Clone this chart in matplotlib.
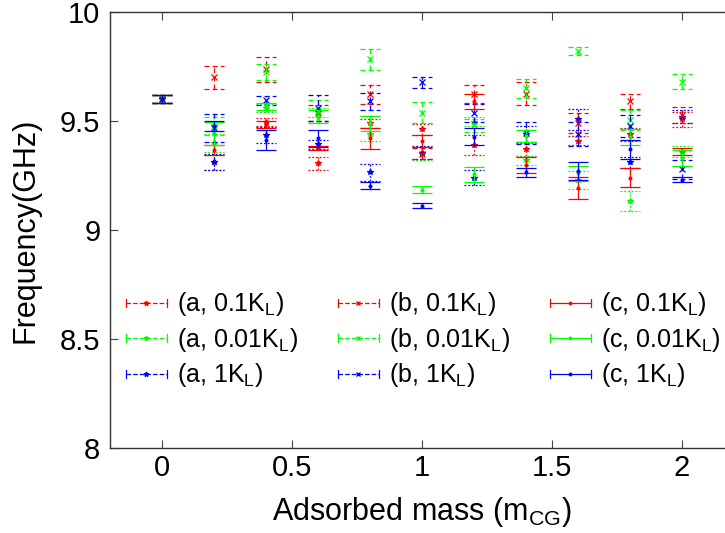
import numpy as np
import matplotlib
matplotlib.use("Agg")
import matplotlib.pyplot as plt
from matplotlib.lines import Line2D
from matplotlib.legend_handler import HandlerBase

plt.rcParams['font.family'] = ['Liberation Sans', 'DejaVu Sans']
plt.rcParams['mathtext.default'] = 'regular'

# adsorbed mass (m_CG)
mass = [0.0, 0.2, 0.4, 0.6, 0.8, 1.0, 1.2, 1.4, 1.6, 1.8, 2.0]

# case a (dotted)
a_01 = [9.60, 9.31, 9.496, 9.306, 9.489, 9.462, 9.39, 9.37, 9.41, 9.439, 9.507]
a_01_err = [0.017, 0.035, 0.02, 0.03, 0.02, 0.024, 0.045, 0.03, 0.02, 0.03, 0.036]
a_001 = [9.60, 9.40, 9.56, 9.54, 9.44, 9.35, 9.497, 9.32, 9.23, 9.132, 9.36]
a_001_err = [0.017, 0.04, 0.02, 0.02, 0.03, 0.03, 0.02, 0.02, 0.04, 0.045, 0.025]
a_1 = [9.60, 9.312, 9.436, 9.393, 9.265, 9.355, 9.24, 9.44, 9.507, 9.31, 9.52]
a_1_err = [0.017, 0.037, 0.035, 0.02, 0.04, 0.03, 0.035, 0.035, 0.048, 0.025, 0.03]

# case b (dashed)
b_01 = [9.60, 9.70, 9.737, 9.536, 9.622, 9.35, 9.624, 9.625, 9.49, 9.59, 9.528]
b_01_err = [0.017, 0.053, 0.058, 0.036, 0.042, 0.025, 0.04, 0.052, 0.045, 0.034, 0.038]
b_001 = [9.60, 9.478, 9.724, 9.548, 9.783, 9.538, 9.48, 9.65, 9.822, 9.505, 9.68]
b_001_err = [0.017, 0.04, 0.036, 0.047, 0.047, 0.048, 0.03, 0.044, 0.017, 0.045, 0.034]
b_1 = [9.60, 9.467, 9.595, 9.558, 9.59, 9.677, 9.538, 9.446, 9.44, 9.477, 9.278]
b_1_err = [0.017, 0.064, 0.02, 0.06, 0.04, 0.025, 0.042, 0.05, 0.055, 0.05, 0.045]

# case c (solid)
c_01 = [9.60, 9.367, 9.485, 9.375, 9.42, 9.41, 9.59, 9.298, 9.193, 9.24, 9.361]
c_01_err = [0.017, 0.023, 0.015, 0.01, 0.05, 0.028, 0.033, 0.035, 0.052, 0.043, 0.017]
c_001 = [9.60, 9.443, 9.567, 9.52, 9.49, 9.185, 9.255, 9.43, 9.26, 9.425, 9.33]
c_001_err = [0.017, 0.052, 0.017, 0.03, 0.035, 0.017, 0.035, 0.028, 0.033, 0.037, 0.037]
c_1 = [9.60, 9.478, 9.414, 9.42, 9.203, 9.111, 9.428, 9.264, 9.27, 9.37, 9.231]
c_1_err = [0.017, 0.022, 0.045, 0.04, 0.017, 0.011, 0.038, 0.02, 0.04, 0.045, 0.01]

labels = [r'(a, 0.1K$_L$)', r'(a, 0.01K$_L$)', r'(a, 1K$_L$)',
          r'(b, 0.1K$_L$)', r'(b, 0.01K$_L$)', r'(b, 1K$_L$)',
          r'(c, 0.1K$_L$)', r'(c, 0.01K$_L$)', r'(c, 1K$_L$)']

series = [(a_01, a_01_err), (a_001, a_001_err), (a_1, a_1_err),
          (b_01, b_01_err), (b_001, b_001_err), (b_1, b_1_err),
          (c_01, c_01_err), (c_001, c_001_err), (c_1, c_1_err)]

colors = ['#ff0000', '#00ff00', '#0000ff'] * 3
dotted = (0, (1.5, 1.5))
dashed = (0, (4, 2.5))
styles = [dotted] * 3 + [dashed] * 3 + ['-'] * 3
markers = ['*'] * 3 + ['x'] * 3 + ['.'] * 3
cap_half = 0.04


class ErrHandler(HandlerBase):
    # matlab-style errorbar legend icon: line, end caps, centre marker
    def create_artists(self, legend, orig, xd, yd, w, h, fs, trans):
        y = h / 2 - yd
        x0, x1 = -xd, -xd + w
        c = orig.get_color()
        ln = Line2D([x0, x1], [y, y], color=c, ls=orig.get_linestyle(), lw=0.9)
        caps = Line2D([x0, x0, np.nan, x1, x1], [y - 3, y + 3, np.nan, y - 3, y + 3],
                      color=c, lw=0.9)
        mk = Line2D([(x0 + x1) / 2], [y], marker=orig.get_marker(), color=c,
                    ms=3.5, ls='none')
        for art in (ln, caps, mk):
            art.set_transform(trans)
        return [ln, caps, mk]


fig = plt.figure(figsize=(7.25, 5.33), dpi=100)
ax = fig.add_axes([110 / 725, 85 / 533, 624 / 725, 436 / 533])

x = np.array(mass)
handles = []
for (y, e), col, ls, mk, lab in zip(series, colors, styles, markers, labels):
    y = np.array(y)
    e = np.array(e)
    eb = ax.errorbar(x, y, yerr=e, fmt='none', ecolor=col, elinewidth=0.9, capsize=0)
    eb.lines[2][0].set_linestyle(ls)
    ax.hlines(y - e, x - cap_half, x + cap_half, colors=col, linestyles=ls, lw=0.9)
    ax.hlines(y + e, x - cap_half, x + cap_half, colors=col, linestyles=ls, lw=0.9)
    ax.plot(x, y, ls='none', marker=mk, color=col, ms=4, mew=0.9)
    handles.append(Line2D([], [], color=col, ls=ls, marker=mk, label=lab))

ax.set_xlim(-0.2, 2.2)
ax.set_ylim(8, 10)
ax.set_xticks([0, 0.5, 1, 1.5, 2])
ax.set_xticklabels(['0', '0.5', '1', '1.5', '2'])
ax.set_yticks([8, 8.5, 9, 9.5, 10])
ax.set_yticklabels(['8', '8.5', '9', '9.5', '10'])
ax.tick_params(direction='in', length=6, width=0.8, color='#444444',
               labelsize=21, top=True, right=True)
ax.tick_params(axis='x', pad=4)
ax.tick_params(axis='y', pad=7)
for sp in ax.spines.values():
    sp.set_linewidth(1.0)
    sp.set_color('#333333')

ax.set_xlabel(r'Adsorbed mass (m$_{CG}$)', fontsize=22, labelpad=10)
ax.set_ylabel('Frequency(GHz)', fontsize=22, labelpad=14)

ax.legend(handles=handles, ncol=3, frameon=False, fontsize=18,
          handler_map={Line2D: ErrHandler()},
          loc='upper left', bbox_to_anchor=(0.005, 0.39), borderpad=0,
          handlelength=1.64, handletextpad=0.4, columnspacing=1.6,
          labelspacing=0.3)

fig.savefig('out.png', dpi=100)
